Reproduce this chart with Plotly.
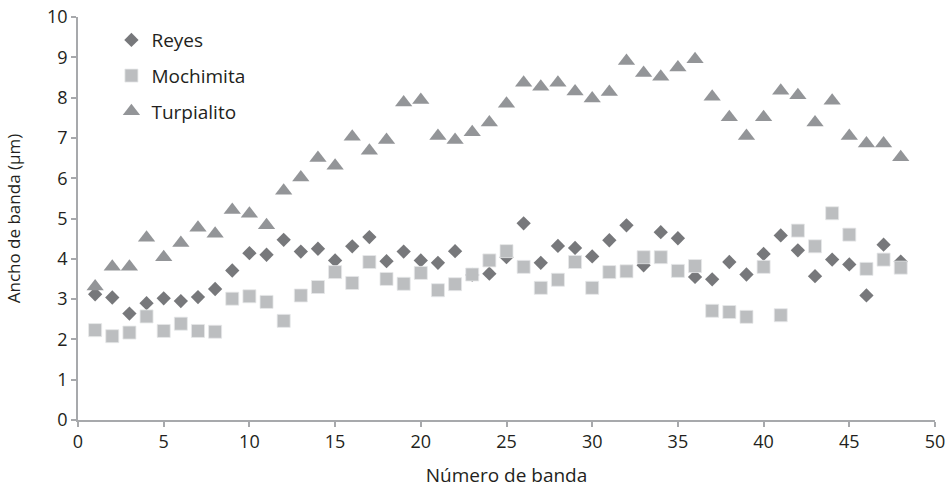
import plotly.graph_objects as go

bandas = list(range(1, 49))

reyes = [3.12, 3.04, 2.64, 2.90, 3.02, 2.95, 3.05, 3.25, 3.71, 4.14,
         4.10, 4.47, 4.18, 4.25, 3.96, 4.31, 4.54, 3.94, 4.18, 3.96,
         3.90, 4.19, 3.60, 3.63, 4.04, 4.88, 3.90, 4.32, 4.27, 4.06,
         4.46, 4.83, 3.84, 4.66, 4.51, 3.55, 3.49, 3.92, 3.61, 4.12,
         4.58, 4.21, 3.57, 3.98, 3.86, 3.09, 4.35, 3.93]

mochimita = [2.23, 2.08, 2.17, 2.57, 2.21, 2.39, 2.21, 2.19, 3.01, 3.07,
             2.93, 2.46, 3.09, 3.30, 3.67, 3.40, 3.92, 3.50, 3.38, 3.65,
             3.22, 3.37, 3.61, 3.96, 4.19, 3.80, 3.28, 3.48, 3.92, 3.28,
             3.67, 3.69, 4.04, 4.04, 3.70, 3.82, 2.71, 2.68, 2.56, 3.80,
             2.60, 4.70, 4.31, 5.13, 4.60, 3.75, 3.98, 3.78]

turpialito = [3.31, 3.80, 3.80, 4.52, 4.04, 4.39, 4.77, 4.62, 5.21, 5.12,
              4.83, 5.69, 6.02, 6.50, 6.31, 7.03, 6.68, 6.95, 7.88, 7.94,
              7.05, 6.95, 7.14, 7.38, 7.85, 8.37, 8.27, 8.37, 8.15, 7.98,
              8.14, 8.91, 8.61, 8.52, 8.75, 8.95, 8.02, 7.51, 7.05, 7.51,
              8.17, 8.06, 7.38, 7.92, 7.05, 6.86, 6.86, 6.52]

FONT = "Open Sans"
TXT = "#231f20"
AXC = "#a7a9ac"

fig = go.Figure()
fig.add_trace(go.Scatter(x=bandas, y=reyes, mode="markers", name="Reyes",
                         legendgroup="a",
                         marker=dict(symbol="diamond", size=11, color="#77787b")))
fig.add_trace(go.Scatter(x=bandas, y=mochimita, mode="markers", name="Mochimita",
                         legendgroup="b",
                         marker=dict(symbol="square", size=13, color="#bcbec0",
                                     line=dict(width=0.8, color="#e6e7e8"))))
fig.add_trace(go.Scatter(x=bandas, y=turpialito, mode="markers", name="Turpialito",
                         legendgroup="c",
                         marker=dict(symbol="triangle-up", size=15, color="#939598")))

fig.update_layout(
    width=951, height=491,
    margin=dict(l=78, r=16, t=17, b=71),
    paper_bgcolor="white", plot_bgcolor="white",
    font=dict(family=FONT, size=18, color=TXT),
    legend=dict(x=0.039, y=0.99, xanchor="left", yanchor="top",
                bgcolor="rgba(0,0,0,0)", tracegroupgap=8,
                font=dict(size=19, color=TXT)),
    xaxis=dict(range=[0, 50], dtick=5, tick0=0, showgrid=False, zeroline=False,
               automargin=False, ticklabeloverflow="allow",
               showline=True, linecolor=AXC, linewidth=1.5,
               ticks="outside", ticklen=5, tickcolor=AXC, tickwidth=1.5,
               tickfont=dict(size=18, color=TXT),
               title=dict(text="Número de banda", font=dict(size=19, color=TXT), standoff=16)),
    yaxis=dict(range=[0, 10], dtick=1, tick0=0, showgrid=False, zeroline=False,
               automargin=False, ticklabeloverflow="allow",
               showline=True, linecolor=AXC, linewidth=1.5,
               ticks="outside", ticklen=5, tickcolor=AXC, tickwidth=1.5,
               tickfont=dict(size=18, color=TXT),
               title=dict(text="Ancho de banda (µm)", font=dict(size=17, color=TXT), standoff=22)),
)

fig.write_html("out.html",
               config={"displayModeBar": False},
               post_script="document.body.style.margin='0';document.body.style.padding='0';")
